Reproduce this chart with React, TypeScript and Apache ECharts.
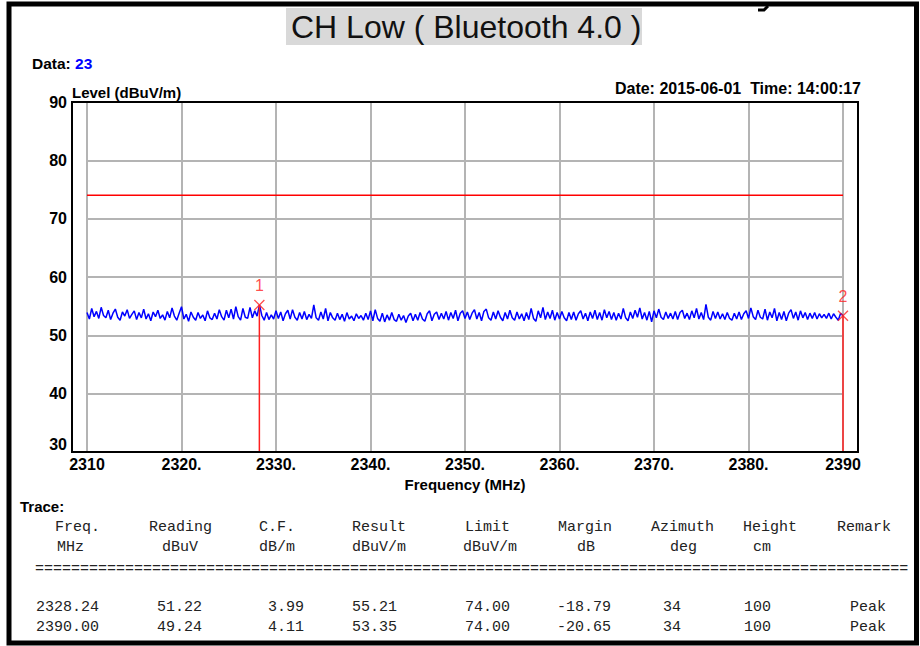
import React, { useEffect, useRef } from 'react';
import * as echarts from 'echarts';

// ---------- data ----------
const FREQ_START = 2310;
const FREQ_STEP = 0.25;
const traceLevels: number[] = [
  53.9, 52.8, 54.6, 53.2, 54.1, 52.9, 54.8, 53.4, 53.0, 54.3, 52.7, 53.8, 54.5, 53.1, 52.6, 54.0, 53.3, 54.4, 52.9, 53.6,
  54.2, 52.7, 53.9, 53.0, 54.5, 52.8, 53.7, 52.5, 54.0, 53.2, 54.3, 52.9, 53.5, 52.6, 54.1, 53.0, 54.7, 53.3, 52.6, 53.8,
  54.9, 52.8, 53.6, 52.4, 54.0, 53.1, 52.6, 53.9, 52.9, 53.5, 52.5, 54.2, 53.0, 52.7, 53.8, 52.8, 54.4, 53.2, 52.6, 54.3,
  53.0, 54.5, 52.8, 54.9, 53.2, 52.6, 54.6, 53.1, 52.9, 54.8, 53.0, 54.2, 53.3, 55.21, 53.4, 52.6, 53.9, 52.7, 53.5, 52.8,
  54.2, 52.9, 54.0, 52.5, 53.7, 54.3, 52.8, 54.4, 53.1, 52.6, 53.9, 52.8, 54.1, 52.7, 53.6, 52.9, 55.2, 53.0, 52.6, 54.0,
  52.8, 54.6, 52.5, 53.9, 53.0, 52.6, 53.8, 52.7, 53.6, 52.4, 53.9, 52.8, 53.3, 52.5, 53.7, 52.9, 53.4, 52.6, 53.8, 52.7,
  54.2, 52.5, 54.4, 52.9, 52.4, 53.8, 52.3, 53.5, 52.6, 53.9, 52.7, 52.4, 53.6, 52.6, 53.4, 52.2, 53.3, 53.8, 52.5, 53.6,
  52.6, 53.9, 52.8, 52.4, 53.7, 54.2, 52.5, 53.6, 54.0, 52.7, 53.8, 52.8, 54.1, 52.6, 53.9, 52.9, 54.3, 52.5, 53.8, 54.2,
  52.9, 54.0, 52.7, 53.8, 54.4, 52.8, 53.9, 52.5, 54.1, 54.5, 53.0, 52.6, 54.0, 52.8, 54.2, 53.1, 52.5, 53.9, 52.8, 54.3,
  53.0, 52.6, 54.0, 52.8, 53.7, 52.5, 53.9, 52.7, 54.6, 52.9, 52.4, 54.2, 53.0, 54.8, 52.7, 54.0, 52.9, 54.3, 52.6, 53.9,
  52.8, 54.1, 53.0, 52.5, 53.9, 52.7, 54.0, 52.6, 53.7, 54.2, 52.8, 53.8, 52.5, 54.0, 52.9, 54.3, 52.7, 53.9, 52.6, 54.4,
  53.0, 54.1, 52.7, 53.9, 52.6, 53.8, 52.8, 54.6, 53.0, 52.5, 54.0, 52.9, 54.3, 53.1, 54.7, 52.8, 53.9, 52.6, 54.1, 52.3,
  54.2, 53.0, 54.5, 53.1, 52.7, 54.0, 52.9, 53.8, 52.8, 54.1, 52.7, 53.9, 54.3, 52.9, 53.8, 52.7, 54.2, 53.0, 54.6, 52.8,
  53.9, 52.7, 55.3, 53.1, 52.6, 54.1, 52.9, 54.0, 52.8, 53.7, 52.7, 53.9, 52.9, 52.6, 53.8, 52.8, 54.0, 52.7, 53.7, 54.2,
  52.9, 54.7, 53.2, 52.7, 54.3, 53.1, 52.8, 54.5, 52.6, 54.0, 53.0, 54.6, 52.5, 53.9, 52.7, 54.1, 52.5, 53.8, 54.4, 52.9,
  54.0, 52.6, 54.2, 53.0, 53.9, 52.7, 53.8, 52.9, 53.9, 52.8, 53.7, 53.0, 53.6, 52.9, 53.8, 52.8, 53.7, 53.1, 52.6, 53.8,
  53.35,
];
const limitFreqs = [2310, 2390];
const limitLevels = [74, 74];
const markerNames = ['1', '2'];
const markerFreqs = [2328.24, 2390.0];
const markerLevels = [55.21, 53.35];

const tableHeader1 = ['Freq.', 'Reading', 'C.F.', 'Result', 'Limit', 'Margin', 'Azimuth', 'Height', 'Remark'];
const tableHeader2 = ['MHz', 'dBuV', 'dB/m', 'dBuV/m', 'dBuV/m', 'dB', 'deg', 'cm', ''];
const tableRow1 = ['2328.24', '51.22', '3.99', '55.21', '74.00', '-18.79', '34', '100', 'Peak'];
const tableRow2 = ['2390.00', '49.24', '4.11', '53.35', '74.00', '-20.65', '34', '100', 'Peak'];

// ---------- layout ----------
const H1_X = [55, 149, 259, 352, 465, 558, 651, 743, 837];
const H2_X = [57, 162, 259, 352, 463, 577, 670, 753, 0];
const ROW_X = [36, 157, 268, 352, 465, 557, 663, 744, 850];

const BOLD = 'Liberation Sans, Arial, sans-serif';
const MONO = 'Liberation Mono, DejaVu Sans Mono, monospace';

function cells(texts: string[], xs: number[], y: number) {
  return texts
    .map((t, i) => ({ t, x: xs[i] }))
    .filter((c) => c.t !== '')
    .map((c) => ({
      type: 'text',
      x: c.x,
      y,
      style: {
        text: c.t,
        font: `15px ${MONO}`,
        fill: '#222',
        textAlign: 'left',
        textVerticalAlign: 'middle',
      },
      z: 10,
    }));
}

export default function App() {
  const ref = useRef<HTMLDivElement>(null);

  useEffect(() => {
    document.body.style.margin = '0';
    if (!ref.current) return;
    const chart = echarts.init(ref.current, null, { renderer: 'svg' });

    const trace = traceLevels.map((v, i) => [FREQ_START + i * FREQ_STEP, v]);
    const limit = limitFreqs.map((f, i) => [f, limitLevels[i]]);

    const markerLineSeries = markerFreqs.map((f, i) => ({
      type: 'line',
      data: [
        [f, 30],
        [f, markerLevels[i]],
      ],
      symbol: 'none',
      lineStyle: { color: '#ff2020', width: 1.5 },
      z: 4,
      silent: true,
    }));

    const option: any = {
      animation: false,
      grid: { left: 87, top: 102, width: 756, height: 350, containLabel: false },
      xAxis: {
        type: 'value',
        min: 2310,
        max: 2390,
        interval: 10,
        axisLine: { show: false },
        axisTick: { show: false },
        splitLine: { show: true, lineStyle: { color: '#b4b4b4', width: 2 } },
        axisLabel: {
          color: '#000',
          fontFamily: BOLD,
          fontWeight: 'bold',
          fontSize: 16,
          margin: 4,
          formatter: (v: number) => (v === 2310 || v === 2390 ? String(v) : v + '.'),
        },
        name: 'Frequency (MHz)',
        nameLocation: 'middle',
        nameGap: 24,
        nameTextStyle: { color: '#000', fontFamily: BOLD, fontWeight: 'bold', fontSize: 15 },
      },
      yAxis: {
        type: 'value',
        min: 30,
        max: 90,
        interval: 10,
        axisLine: { show: false },
        axisTick: { show: false },
        splitLine: { show: true, lineStyle: { color: '#b4b4b4', width: 2 } },
        axisLabel: {
          color: '#000',
          fontFamily: BOLD,
          fontWeight: 'bold',
          fontSize: 16,
          margin: 20,
          formatter: (v: number) => (v === 30 ? '{low|30}' : String(v)),
          rich: {
            low: {
              color: '#000',
              fontFamily: BOLD,
              fontWeight: 'bold',
              fontSize: 16,
              padding: [0, 0, 16, 0],
            },
          },
        },
      },
      series: [
        {
          type: 'line',
          data: limit,
          symbol: 'none',
          lineStyle: { color: '#ff0000', width: 1.5 },
          z: 3,
          silent: true,
        },
        {
          type: 'line',
          data: trace,
          symbol: 'none',
          lineStyle: { color: '#0000ff', width: 1.5 },
          z: 3,
          silent: true,
        },
        ...markerLineSeries,
        {
          type: 'scatter',
          data: markerFreqs.map((f, i) => ({ value: [f, markerLevels[i]], name: markerNames[i] })),
          symbol: 'path://M0,0L10,10M10,0L0,10',
          symbolSize: 10,
          itemStyle: { color: 'none', borderColor: '#ff2020', borderWidth: 1.3 },
          label: {
            show: true,
            position: 'top',
            distance: 4,
            formatter: (p: any) => p.name,
            color: '#ff2020',
            fontFamily: BOLD,
            fontSize: 16,
          },
          z: 6,
          silent: true,
        },
      ],
      graphic: [
        // outer frame
        {
          type: 'rect',
          shape: { x: 9, y: 4, width: 907.5, height: 639 },
          style: { fill: 'none', stroke: '#000', lineWidth: 5 },
          z: 10,
        },
        // tail of a glyph cut off from the line above the frame
        {
          type: 'polyline',
          shape: { points: [[768, 6], [764, 10], [758, 10]] },
          style: { stroke: '#000', lineWidth: 3, fill: 'none' },
          z: 9,
        },
        // title
        {
          type: 'rect',
          shape: { x: 286, y: 8, width: 356, height: 37 },
          style: { fill: '#d9d9d9' },
          z: 5,
        },
        {
          type: 'text',
          x: 291,
          y: 27,
          style: {
            text: 'CH Low ( Bluetooth 4.0 )',
            font: `32px ${BOLD}`,
            fill: '#111',
            textAlign: 'left',
            textVerticalAlign: 'middle',
          },
          z: 6,
        },
        {
          type: 'text',
          x: 32,
          y: 63,
          style: {
            text: '{a|Data: }{b|23}',
            textVerticalAlign: 'middle',
            rich: {
              a: { font: `bold 15.5px ${BOLD}`, fill: '#000' },
              b: { font: `bold 15.5px ${BOLD}`, fill: '#0000ff' },
            },
          },
          z: 6,
        },
        {
          type: 'text',
          x: 72,
          y: 92,
          style: {
            text: 'Level (dBuV/m)',
            font: `bold 15px ${BOLD}`,
            fill: '#000',
            textVerticalAlign: 'middle',
          },
          z: 6,
        },
        {
          type: 'text',
          x: 861,
          y: 88,
          style: {
            text: 'Date: 2015-06-01  Time: 14:00:17',
            font: `bold 16px ${BOLD}`,
            fill: '#000',
            textAlign: 'right',
            textVerticalAlign: 'middle',
          },
          z: 6,
        },
        // plot frame
        {
          type: 'rect',
          shape: { x: 72, y: 102, width: 786, height: 350 },
          style: { fill: 'none', stroke: '#000', lineWidth: 2 },
          z: 8,
        },
        // table
        {
          type: 'text',
          x: 20,
          y: 506,
          style: { text: 'Trace:', font: `bold 15px ${BOLD}`, fill: '#000', textVerticalAlign: 'middle' },
          z: 6,
        },
        ...cells(tableHeader1, H1_X, 527),
        ...cells(tableHeader2, H2_X, 547),
        {
          type: 'text',
          x: 35,
          y: 569,
          style: {
            text: '='.repeat(97),
            font: `15px ${MONO}`,
            fill: '#222',
            textVerticalAlign: 'middle',
          },
          z: 6,
        },
        ...cells(tableRow1, ROW_X, 607),
        ...cells(tableRow2, ROW_X, 627),
      ],
    };

    chart.setOption(option);
    return () => chart.dispose();
  }, []);

  return <div ref={ref} style={{ width: 920, height: 646 }} />;
}
